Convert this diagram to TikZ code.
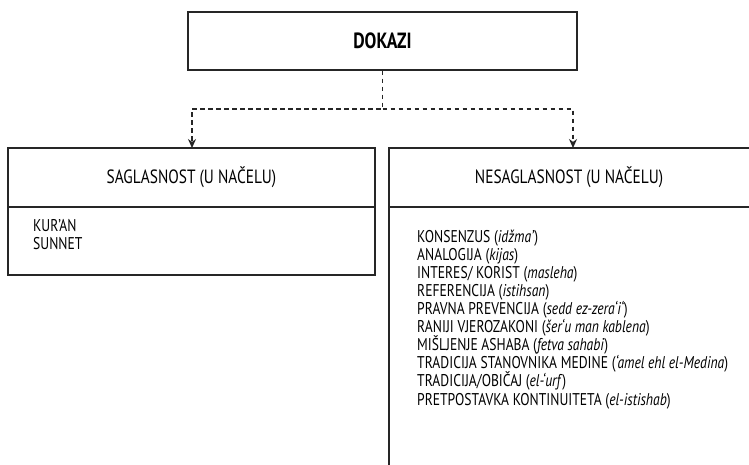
\documentclass[tikz,border=0pt]{standalone}
\usepackage{fontspec}
\setmainfont[FakeStretch=0.80]{PT Sans}
\usetikzlibrary{arrows.meta}
\tikzset{
  boxline/.style={draw=black!85, line width=1.4pt},
  hdr/.style={boxline, rectangle, inner sep=0pt, font=\fontsize{19.2}{22}\selectfont},
  body/.style={boxline, rectangle, inner sep=0pt},
  item/.style={anchor=base west, inner sep=0pt, font=\fontsize{17}{18}\selectfont},
  dashconn/.style={draw=black!85, line width=1.4pt, dash pattern=on 4.5pt off 3.5pt, -{Stealth[length=9pt,width=8pt]}}
}
\begin{document}
\begin{tikzpicture}[x=1pt,y=-1pt]
\useasboundingbox (0,0) rectangle (749,464);
\fill[white] (0,0) rectangle (749,464);
\clip (0,0) rectangle (749,464);
% top box
\node[hdr, minimum width=389pt, minimum height=58pt, font=\fontsize{22}{24}\selectfont\bfseries] (dokazi) at (382.5,41) {DOKAZI};
% left box
\node[hdr, minimum width=367pt, minimum height=59pt] (lhead) at (191.5,177.5) {SAGLASNOST (U NAČELU)};
\node[body, minimum width=367pt, minimum height=68pt] (lbody) at (191.5,241) {};
% right box (cropped by picture edge)
\node[boxline, rectangle, inner sep=0pt, minimum width=400pt, minimum height=59pt] (rheadbox) at (589,177.5) {};
\node[inner sep=0pt, font=\fontsize{19.2}{22}\selectfont] (rhead) at (569,177.5) {NESAGLASNOST (U NAČELU)};
\node[body, minimum width=400pt, minimum height=300pt] (rbody) at (589,357) {};
% texts
\node[item] (l1) at (33,231) {KUR’AN};
\node[item] (l2) at (33,249) {SUNNET};
\node[item] (r1) at (417,242) {KONSENZUS (\textit{idžma’})};
\node[item] (r2) at (417,260) {ANALOGIJA (\textit{kijas})};
\node[item] (r3) at (417,278) {INTERES/ KORIST (\textit{masleha})};
\node[item] (r4) at (417,296) {REFERENCIJA (\textit{istihsan})};
\node[item] (r5) at (417,314) {PRAVNA PREVENCIJA (\textit{sedd ez-zera‘i‘})};
\node[item] (r6) at (417,332) {RANIJI VJEROZAKONI (\textit{šer‘u man kablena})};
\node[item] (r7) at (417,350) {MIŠLJENJE ASHABA (\textit{fetva sahabi})};
\node[item] (r8) at (417,368) {TRADICIJA STANOVNIKA MEDINE (\textit{‘amel ehl el-Medina})};
\node[item] (r9) at (417,386) {TRADICIJA/OBIČAJ (\textit{el-‘urf})};
\node[item] (r10) at (417,405) {PRETPOSTAVKA KONTINUITETA (\textit{el-istishab})};
% connectors
\coordinate (j) at (382.5,109);
\coordinate (ltop) at (192,148);
\coordinate (rtop) at (573,148);
\draw[dashconn] (dokazi.south) -- (j) -| (ltop);
\draw[dashconn] (j) -| (rtop);
\end{tikzpicture}
\end{document}
